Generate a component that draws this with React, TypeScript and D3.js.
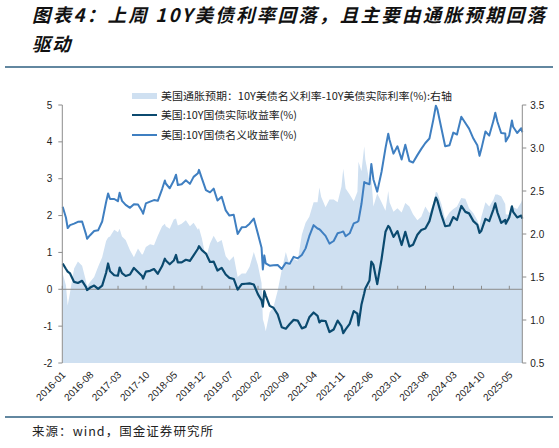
import React from "react";
import * as d3 from "d3";

const dates = [
  "2016-01-04", "2016-01-29", "2016-02-11", "2016-02-29", "2016-03-31", "2016-04-29", "2016-05-31", "2016-06-30",
  "2016-07-08", "2016-07-29", "2016-08-31", "2016-09-30", "2016-10-31", "2016-11-30", "2016-12-15", "2016-12-30",
  "2017-01-31", "2017-02-28", "2017-03-13", "2017-03-31", "2017-04-28", "2017-05-31", "2017-06-30", "2017-07-31",
  "2017-08-31", "2017-09-08", "2017-09-29", "2017-10-31", "2017-11-30", "2017-12-29", "2018-01-31", "2018-02-21",
  "2018-02-28", "2018-03-30", "2018-04-30", "2018-05-17", "2018-05-31", "2018-06-29", "2018-07-31", "2018-08-31",
  "2018-09-28", "2018-10-31", "2018-11-08", "2018-11-30", "2018-12-31", "2019-01-31", "2019-02-28", "2019-03-29",
  "2019-04-30", "2019-05-31", "2019-06-28", "2019-07-31", "2019-08-30", "2019-09-30", "2019-10-31", "2019-11-29",
  "2019-12-31", "2020-01-31", "2020-02-28", "2020-03-09", "2020-03-20", "2020-03-31", "2020-04-30", "2020-05-29",
  "2020-06-30", "2020-07-31", "2020-08-31", "2020-09-30", "2020-10-30", "2020-11-30", "2020-12-31", "2021-01-29",
  "2021-02-26", "2021-03-31", "2021-04-30", "2021-05-14", "2021-05-28", "2021-06-30", "2021-07-30", "2021-08-31",
  "2021-09-30", "2021-10-29", "2021-11-12", "2021-11-30", "2021-12-31", "2022-01-31", "2022-02-28", "2022-03-08",
  "2022-03-31", "2022-04-21", "2022-04-29", "2022-05-31", "2022-06-14", "2022-06-30", "2022-07-29", "2022-08-31",
  "2022-09-30", "2022-10-21", "2022-10-31", "2022-11-30", "2022-12-30", "2023-01-31", "2023-02-28", "2023-03-31",
  "2023-04-28", "2023-05-31", "2023-06-30", "2023-07-31", "2023-08-31", "2023-09-29", "2023-10-19", "2023-10-31",
  "2023-11-30", "2023-12-29", "2024-01-31", "2024-02-29", "2024-03-28", "2024-04-30", "2024-05-31", "2024-06-28",
  "2024-07-31", "2024-08-30", "2024-09-16", "2024-09-30", "2024-10-31", "2024-11-29", "2024-12-31", "2025-01-14",
  "2025-01-31", "2025-02-28", "2025-03-31", "2025-04-04", "2025-04-30", "2025-05-21", "2025-05-30", "2025-06-30",
  "2025-07-31", "2025-08-08",
];

// 美国:10Y国债名义收益率(%)  (left axis)
const nominalYield = [
  2.24, 1.94, 1.66, 1.74, 1.78, 1.83, 1.84, 1.49,
  1.37, 1.46, 1.58, 1.6, 1.84, 2.37, 2.6, 2.45,
  2.45, 2.39, 2.62, 2.4, 2.29, 2.21, 2.31, 2.3,
  2.12, 2.05, 2.33, 2.38, 2.42, 2.4, 2.72, 2.95,
  2.87, 2.74, 2.95, 3.11, 2.83, 2.85, 2.96, 2.86,
  3.05, 3.15, 3.24, 3.01, 2.69, 2.63, 2.73, 2.41,
  2.51, 2.14, 2.0, 2.02, 1.5, 1.68, 1.69, 1.78,
  1.92, 1.51, 1.13, 0.54, 0.92, 0.7, 0.64, 0.65,
  0.66, 0.55, 0.72, 0.69, 0.88, 0.84, 0.93, 1.11,
  1.44, 1.74, 1.65, 1.63, 1.58, 1.45, 1.24, 1.31,
  1.52, 1.55, 1.57, 1.44, 1.52, 1.79, 1.83, 1.86,
  2.32, 2.91, 2.89, 2.85, 3.4, 2.98, 2.65, 3.19,
  3.83, 4.22, 4.05, 3.68, 3.88, 3.52, 3.92, 3.48,
  3.44, 3.64, 3.81, 3.97, 4.09, 4.59, 4.98, 4.88,
  4.37, 3.88, 3.91, 4.25, 4.2, 4.68, 4.51, 4.36,
  4.09, 3.91, 3.62, 3.81, 4.28, 4.17, 4.57, 4.79,
  4.54, 4.24, 4.23, 4.01, 4.17, 4.58, 4.41, 4.24,
  4.37, 4.26,
];

// 美国:10Y国债实际收益率(%)  (left axis)
const realYield = [
  0.7, 0.55, 0.48, 0.43, 0.2, 0.17, 0.23, 0.06,
  -0.02, 0.04, 0.1, 0.01, 0.1, 0.45, 0.7, 0.49,
  0.38, 0.37, 0.59, 0.44, 0.36, 0.4, 0.58, 0.47,
  0.36, 0.29, 0.48, 0.5, 0.55, 0.42, 0.63, 0.83,
  0.78, 0.68, 0.78, 0.93, 0.73, 0.73, 0.8, 0.77,
  0.92, 1.1, 1.17, 1.06, 0.97, 0.74, 0.75, 0.51,
  0.58, 0.4, 0.31, 0.28, -0.01, 0.14, 0.15, 0.16,
  0.13, -0.13, -0.3, -0.47, -0.05, -0.17, -0.45, -0.5,
  -0.68, -1.03, -1.07, -0.94, -0.83, -0.85, -1.06, -1.02,
  -0.76, -0.63, -0.72, -0.9, -0.85, -0.86, -1.16, -1.09,
  -0.85, -1.0, -1.19, -1.09, -0.94, -0.59, -0.66, -0.98,
  -0.41, -0.11, 0.02, 0.24, 0.75, 0.66, 0.14, 0.82,
  1.56, 1.72, 1.68, 1.42, 1.58, 1.2, 1.56, 1.16,
  1.21, 1.48, 1.61, 1.65, 1.85, 2.24, 2.49, 2.4,
  2.02, 1.71, 1.73, 1.96, 1.88, 2.26, 2.1, 2.06,
  1.85, 1.75, 1.53, 1.59, 1.91, 1.85, 2.17, 2.33,
  2.08, 1.8, 1.88, 1.78, 1.95, 2.25, 2.1, 1.95,
  2.0, 1.92,
];

// 美国通胀预期：10Y美债名义利率-10Y美债实际利率(%)  (right axis)
const breakeven = [
  1.54, 1.4, 1.17, 1.32, 1.6, 1.68, 1.63, 1.45,
  1.39, 1.44, 1.5, 1.62, 1.73, 1.92, 1.96, 1.97,
  2.05, 2.02, 2.06, 1.97, 1.93, 1.81, 1.73, 1.83,
  1.76, 1.77, 1.85, 1.88, 1.87, 1.98, 2.09, 2.12,
  2.09, 2.06, 2.17, 2.18, 2.1, 2.12, 2.16, 2.09,
  2.13, 2.05, 2.07, 1.95, 1.72, 1.89, 1.98, 1.9,
  1.93, 1.74, 1.69, 1.74, 1.5, 1.54, 1.54, 1.62,
  1.79, 1.64, 1.43, 1.01, 0.95, 0.87, 1.09, 1.15,
  1.34, 1.58, 1.79, 1.63, 1.71, 1.69, 1.99, 2.13,
  2.2, 2.37, 2.37, 2.54, 2.43, 2.31, 2.4, 2.4,
  2.37, 2.55, 2.76, 2.53, 2.46, 2.38, 2.49, 2.84,
  2.73, 3.02, 2.87, 2.61, 2.65, 2.32, 2.47, 2.37,
  2.27, 2.5, 2.37, 2.26, 2.3, 2.25, 2.36, 2.32,
  2.23, 2.16, 2.2, 2.32, 2.24, 2.35, 2.49, 2.48,
  2.35, 2.17, 2.25, 2.29, 2.32, 2.42, 2.41, 2.3,
  2.24, 2.16, 2.09, 2.2, 2.37, 2.32, 2.4, 2.46,
  2.46, 2.44, 2.35, 2.23, 2.22, 2.33, 2.31, 2.29,
  2.37, 2.4,
];

const xTickLabels = [
  "2016-01", "2016-08", "2017-03", "2017-10", "2018-05", "2018-12", "2019-07", "2020-02", "2020-09",
  "2021-04", "2021-11", "2022-06", "2023-01", "2023-08", "2024-03", "2024-10", "2025-05",
];
const leftTicks = [-2, -1, 0, 1, 2, 3, 4, 5];
const rightTicks = [0.5, 1.0, 1.5, 2.0, 2.5, 3.0, 3.5];

const legendLabels = [
  "美国通胀预期：10Y美债名义利率-10Y美债实际利率(%):右轴",
  "美国:10Y国债实际收益率(%)",
  "美国:10Y国债名义收益率(%)",
];

const AREA_COLOR = "#cfe0f1";
const REAL_COLOR = "#0b4a6f";
const NOMINAL_COLOR = "#3f7fc1";
const AXIS_COLOR = "#8c8c8c";
const RULE_COLOR = "#2e5f80";

export default function App() {
  const width = 559;
  const height = 448;
  const plot = { left: 62.3, right: 522.3, top: 105, bottom: 363 };

  const parseDay = d3.timeParse("%Y-%m-%d");
  const parseMonth = d3.timeParse("%Y-%m");
  const xDates = dates.map((d) => parseDay(d) as Date);

  const x = d3
    .scaleTime()
    .domain([parseMonth("2016-01") as Date, xDates[xDates.length - 1]])
    .range([plot.left, plot.right]);
  const yLeft = d3.scaleLinear().domain([-2, 5]).range([plot.bottom, plot.top]);
  const yRight = d3.scaleLinear().domain([0.5, 3.5]).range([plot.bottom, plot.top]);

  const areaPath = d3
    .area<number>()
    .x((_, i) => x(xDates[i]))
    .y0(plot.bottom)
    .y1((d) => yRight(d))(breakeven);

  const leftLine = d3
    .line<number>()
    .x((_, i) => x(xDates[i]))
    .y((d) => yLeft(d));

  const zeroY = yLeft(0);
  const sans = "'Liberation Sans', Arial, sans-serif";
  const cjk = "'Noto Sans CJK SC', sans-serif";

  return (
    <div style={{ position: "absolute", left: 0, top: 0 }}>
      <svg width={width} height={height} style={{ display: "block", background: "#fff" }}>
        {/* title */}
        <text
          x={32}
          y={22}
          fontFamily={cjk}
          fontWeight="bold"
          fontStyle="italic"
          fontSize={18.5}
          textLength={513}
          lengthAdjust="spacing"
          fill="#111"
        >
          图表4：上周 10Y美债利率回落，且主要由通胀预期回落
        </text>
        <text
          x={32}
          y={51}
          fontFamily={cjk}
          fontWeight="bold"
          fontStyle="italic"
          fontSize={18.5}
          letterSpacing={1.5}
          fill="#111"
        >
          驱动
        </text>
        <line x1={5} x2={553} y1={67} y2={67} stroke={RULE_COLOR} strokeWidth={1.5} />

        {/* inflation expectation area (right axis) */}
        <path d={areaPath ?? ""} fill={AREA_COLOR} stroke="none" />

        {/* zero line with month ticks */}
        <line x1={plot.left} x2={plot.right} y1={zeroY} y2={zeroY} stroke={AXIS_COLOR} strokeWidth={1} />
        {xTickLabels.map((t) => {
          const tx = x(parseMonth(t) as Date);
          return (
            <line key={`zt-${t}`} x1={tx} x2={tx} y1={zeroY - 3.5} y2={zeroY} stroke={AXIS_COLOR} strokeWidth={1} />
          );
        })}

        {/* lines */}
        <path d={leftLine(nominalYield) ?? ""} fill="none" stroke={NOMINAL_COLOR} strokeWidth={2} strokeLinejoin="round" />
        <path d={leftLine(realYield) ?? ""} fill="none" stroke={REAL_COLOR} strokeWidth={2.2} strokeLinejoin="round" />

        {/* left axis */}
        <line x1={plot.left} x2={plot.left} y1={plot.top} y2={plot.bottom} stroke={AXIS_COLOR} />
        {leftTicks.map((t) => (
          <g key={`l-${t}`}>
            <line x1={plot.left - 4} x2={plot.left} y1={yLeft(t)} y2={yLeft(t)} stroke={AXIS_COLOR} />
            <text
              x={plot.left - 10}
              y={yLeft(t)}
              dy="0.35em"
              textAnchor="end"
              fontFamily={sans}
              fontSize={10}
              fill="#222"
            >
              {t}
            </text>
          </g>
        ))}

        {/* right axis */}
        <line x1={plot.right} x2={plot.right} y1={plot.top} y2={plot.bottom} stroke={AXIS_COLOR} />
        {rightTicks.map((t) => (
          <g key={`r-${t}`}>
            <line x1={plot.right} x2={plot.right + 4} y1={yRight(t)} y2={yRight(t)} stroke={AXIS_COLOR} />
            <text x={plot.right + 8} y={yRight(t)} dy="0.35em" fontFamily={sans} fontSize={10} fill="#222">
              {d3.format(".1f")(t)}
            </text>
          </g>
        ))}

        {/* x labels */}
        {xTickLabels.map((t) => {
          const tx = x(parseMonth(t) as Date) + 1.5;
          const ty = plot.bottom + 10;
          return (
            <text
              key={`x-${t}`}
              x={tx}
              y={ty}
              dy="0.35em"
              textAnchor="end"
              fontFamily={sans}
              fontSize={10}
              fill="#222"
              transform={`rotate(-45, ${tx}, ${ty})`}
            >
              {t}
            </text>
          );
        })}

        {/* legend */}
        <rect x={132} y={93} width={25} height={6} fill={AREA_COLOR} />
        <line x1={132} x2={157} y1={115} y2={115} stroke={REAL_COLOR} strokeWidth={2} />
        <line x1={132} x2={157} y1={135} y2={135} stroke={NOMINAL_COLOR} strokeWidth={2} />
        {legendLabels.map((l, i) => (
          <text
            key={l}
            x={161}
            y={96 + i * 19.7}
            dy="0.35em"
            fontFamily={cjk}
            fontSize={10.5}
            fill="#222"
            textLength={i === 0 ? 291 : 136}
            lengthAdjust="spacingAndGlyphs"
          >
            {l}
          </text>
        ))}

        {/* footer */}
        <line x1={5} x2={553} y1={417} y2={417} stroke={RULE_COLOR} strokeWidth={1.5} />
        <text x={32} y={436} fontFamily={cjk} fontSize={12.5} fill="#222" textLength={181} lengthAdjust="spacing">
          来源：wind，国金证券研究所
        </text>
      </svg>
    </div>
  );
}
